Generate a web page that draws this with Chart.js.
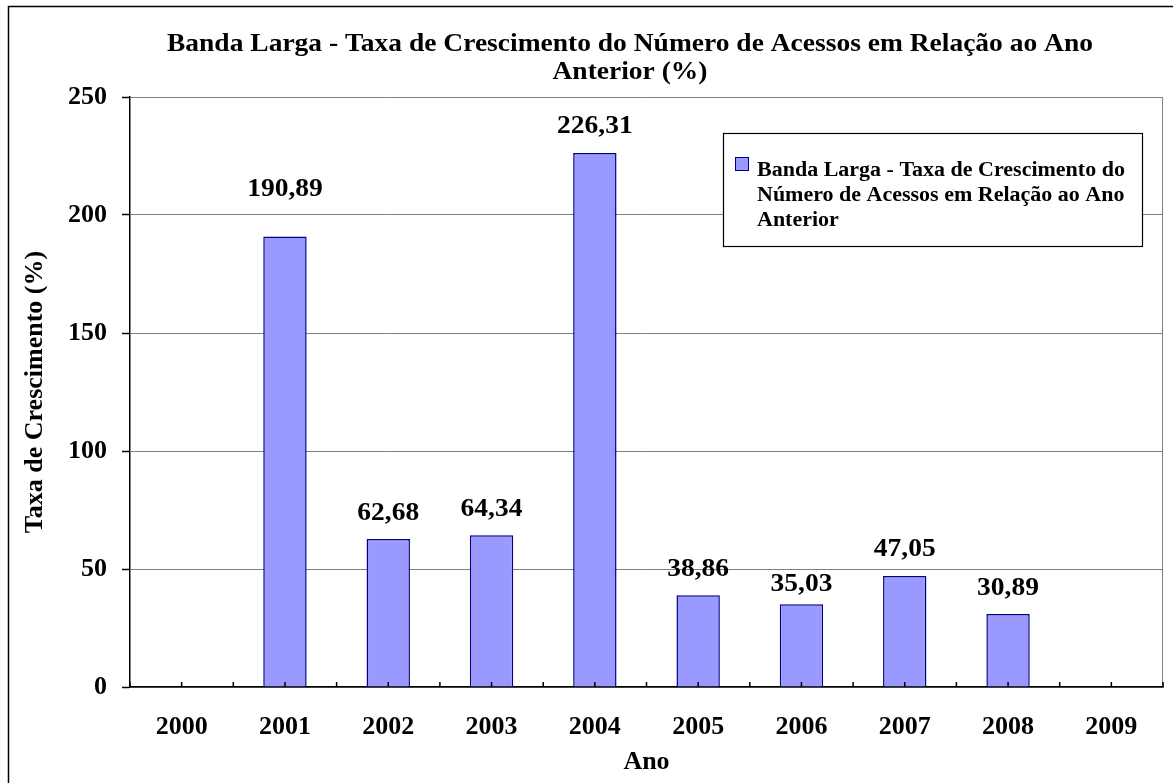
<!DOCTYPE html>
<html><head><meta charset="utf-8">
<script src="https://cdn.jsdelivr.net/npm/chart.js@4.4.0/dist/chart.umd.min.js"></script>
<style>html,body{margin:0;padding:0;background:#fff;overflow:hidden}</style>
</head><body>
<canvas id="c" width="1173" height="783"></canvas>
<script>
const categories = ['2000','2001','2002','2003','2004','2005','2006','2007','2008','2009'];
const growthValues = [null, 190.89, 62.68, 64.34, 226.31, 38.86, 35.03, 47.05, 30.89, null];
const yTickValues = [0, 50, 100, 150, 200, 250];
const titleLines = ['Banda Larga - Taxa de Crescimento do Número de Acessos em Relação ao Ano', 'Anterior (%)'];
const seriesLabelLines = ['Banda Larga - Taxa de Crescimento do', 'Número de Acessos em Relação ao Ano', 'Anterior'];
const yAxisTitle = 'Taxa de Crescimento (%)';
const xAxisTitle = 'Ano';

const FONT = "'Liberation Serif', 'Times New Roman', serif";
const fmt = v => v.toFixed(2).replace('.', ',');

function stretchedText(ctx, text, x, y, sx) {
  ctx.save();
  ctx.translate(x, y);
  ctx.scale(sx, 1);
  ctx.fillText(text, 0, 0);
  ctx.restore();
}

const decor = {
  id: 'decor',
  beforeDraw(chart) {
    const ctx = chart.ctx;
    ctx.save();
    ctx.fillStyle = '#fff';
    ctx.fillRect(0, 0, chart.width, chart.height);
    ctx.strokeStyle = '#000';
    ctx.lineWidth = 1.5;
    ctx.strokeRect(8.5, 6.5, chart.width + 20, chart.height + 20);
    // title
    ctx.fillStyle = '#000';
    ctx.font = 'bold 25px ' + FONT;
    ctx.textAlign = 'center';
    ctx.textBaseline = 'middle';
    titleLines.forEach((t, i) => stretchedText(ctx, t, 630, 45 + i * 28, 1.1));
    ctx.restore();
  },
  afterDatasetsDraw(chart, args, opts) {
    const ctx = chart.ctx;
    const xs = chart.scales.x, ys = chart.scales.y;
    const a = chart.chartArea;
    ctx.save();
    // plot area right border
    ctx.strokeStyle = '#808080';
    ctx.lineWidth = 1;
    ctx.beginPath();
    ctx.moveTo(a.right - 0.5, a.top);
    ctx.lineTo(a.right - 0.5, a.bottom);
    ctx.stroke();
    // x axis inner ticks (centers and boundaries)
    ctx.strokeStyle = '#000';
    ctx.lineWidth = 1.5;
    const half = (xs.getPixelForValue(1) - xs.getPixelForValue(0)) / 2;
    ctx.beginPath();
    categories.forEach((c, i) => {
      const px = xs.getPixelForValue(i);
      [px - half, px, px + half].forEach(p => {
        ctx.moveTo(p, a.bottom);
        ctx.lineTo(p, a.bottom - 5);
      });
    });
    ctx.stroke();
    // value labels
    ctx.fillStyle = '#000';
    ctx.font = 'bold 25px ' + FONT;
    ctx.textAlign = 'center';
    ctx.textBaseline = 'middle';
    const meta = chart.getDatasetMeta(0);
    growthValues.forEach((v, i) => {
      if (v === null) return;
      const el = meta.data[i];
      const nudge = (opts.nudge && opts.nudge[i]) || 0;
      stretchedText(ctx, fmt(v), el.x, ys.getPixelForValue(v) - 26 + nudge, 1.1);
    });
    // legend
    const L = opts.legendBox;
    ctx.fillStyle = '#fff';
    ctx.fillRect(L.x, L.y, L.w, L.h);
    ctx.strokeStyle = '#000';
    ctx.lineWidth = 1.2;
    ctx.strokeRect(L.x + 0.5, L.y + 0.5, L.w, L.h);
    const ds = chart.data.datasets[0];
    ctx.fillStyle = ds.backgroundColor;
    ctx.fillRect(L.x + 12, L.y + 24, 13, 13);
    ctx.strokeStyle = ds.borderColor;
    ctx.lineWidth = 1;
    ctx.strokeRect(L.x + 12.5, L.y + 24.5, 13, 13);
    ctx.fillStyle = '#000';
    ctx.font = 'bold 20px ' + FONT;
    ctx.textAlign = 'left';
    ctx.textBaseline = 'alphabetic';
    seriesLabelLines.forEach((t, i) => stretchedText(ctx, t, L.x + 34, L.y + 43 + i * 25, 1.1));
    ctx.restore();
  }
};

new Chart(document.getElementById('c'), {
  type: 'bar',
  data: {
    labels: categories,
    datasets: [{
      label: seriesLabelLines.join(' '),
      data: growthValues,
      backgroundColor: '#9999FF',
      borderColor: '#000080',
      borderWidth: 1.5,
      barPercentage: 0.42,
      categoryPercentage: 1.0
    }]
  },
  options: {
    responsive: false,
    animation: false,
    devicePixelRatio: 1,
    layout: { padding: { left: 8, right: 10, top: 97, bottom: 0 } },
    plugins: {
      legend: { display: false },
      title: { display: false },
      tooltip: { enabled: false },
      decor: {
        nudge: { 1: -21, 6: 6 },
        legendBox: { x: 723, y: 133, w: 419, h: 113 }
      }
    },
    scales: {
      x: {
        grid: { display: true, drawOnChartArea: false, drawTicks: false },
        border: { color: '#000', width: 1.5 },
        ticks: { color: '#000', font: { family: FONT, size: 26, weight: 'bold' }, padding: 25, maxRotation: 0 },
        title: { display: true, text: xAxisTitle, color: '#000', font: { family: FONT, size: 26, weight: 'bold' }, padding: { top: 0, bottom: 5 } },
        afterFit(s) { s.height = 96; }
      },
      y: {
        min: 0, max: 250,
        afterBuildTicks(s) { s.ticks = yTickValues.map(v => ({ value: v })); },
        grid: { color: '#808080', lineWidth: 1, tickColor: '#000', tickLength: 8, tickWidth: 1.5 },
        border: { color: '#000', width: 1.5 },
        ticks: { color: '#000', font: { family: FONT, size: 26, weight: 'bold' }, padding: 15 },
        title: { display: true, text: yAxisTitle, color: '#000', font: { family: FONT, size: 26, weight: 'bold' }, padding: { top: 12, bottom: 0 } },
        afterFit(s) { s.width = 122; }
      }
    }
  },
  plugins: [decor]
});
</script>
</body></html>
